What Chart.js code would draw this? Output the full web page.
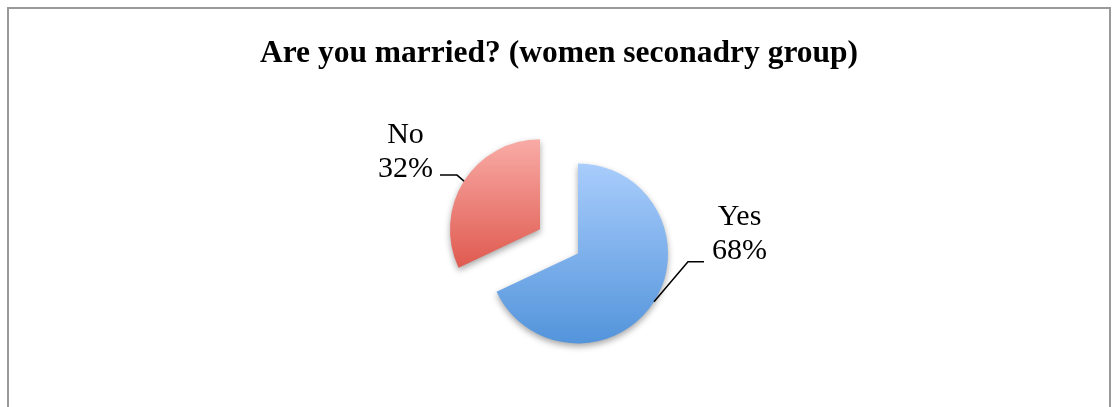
<!doctype html>
<html lang="en">
  <head>
    <title>Are you married?</title>
    <meta charset="utf-8" />
    <style>
      body {
        margin: 0;
        background: #fff;
      }
      .frame {
        position: absolute;
        left: 7px;
        top: 7px;
        width: 1104px;
        height: 430px;
        border: 2px solid #9a9a9a;
        box-sizing: border-box;
      }
      #married {
        position: absolute;
        left: 0;
        top: 0;
      }
    </style>
  </head>

  <body>
    <div class="frame"></div>
    <canvas id="married" width="1112" height="407"></canvas>

    <script src="https://cdn.jsdelivr.net/npm/chart.js@4.4.1/dist/chart.umd.js"></script>
    <script>
      const categories = ["Yes", "No"];
      const shares = [68, 32];

      // gradient ends, top to bottom of each slice
      const topColors = ["#a9cdfc", "#f9aba6"];
      const bottomColors = ["#5394db", "#df5a4f"];

      // how far each slice is pulled out from the centre
      const explode = 22.5;

      // leader line: elbow offset from the slice edge, then a flat run
      const leaderElbow = [[34, -40], [-7, -6]];
      const leaderRun = [16, -17];
      // baseline of the percent line, relative to the flat run
      const labelShift = [-3, 2];

      const labelFont = '30px "Liberation Serif", serif';

      function sliceBounds(arc) {
        const { x, y, startAngle, endAngle, outerRadius } = arc;
        let top = y, bottom = y;
        for (let i = 0; i <= 60; i++) {
          const a = startAngle + (endAngle - startAngle) * i / 60;
          const py = y + outerRadius * Math.sin(a);
          top = Math.min(top, py);
          bottom = Math.max(bottom, py);
        }
        return [top, bottom];
      }

      // push every slice out along its middle angle
      const explodeSlices = {
        id: "explodeSlices",
        afterDatasetsUpdate(chart) {
          chart.getDatasetMeta(0).data.forEach((arc) => {
            const mid = (arc.startAngle + arc.endAngle) / 2;
            arc.x += Math.cos(mid) * explode;
            arc.y += Math.sin(mid) * explode;
          });
        },
      };

      const gradientFill = {
        id: "gradientFill",
        beforeDatasetsDraw(chart) {
          const ctx = chart.ctx;
          chart.getDatasetMeta(0).data.forEach((arc, i) => {
            const [top, bottom] = sliceBounds(arc);
            const g = ctx.createLinearGradient(0, top, 0, bottom);
            g.addColorStop(0, topColors[i]);
            g.addColorStop(1, bottomColors[i]);
            arc.options = Object.assign({}, arc.options, { backgroundColor: g });
          });
          ctx.save();
          ctx.shadowColor = "rgba(0, 0, 0, 0.35)";
          ctx.shadowBlur = 6;
          ctx.shadowOffsetY = 3;
        },
        afterDatasetsDraw(chart) {
          chart.ctx.restore();
        },
      };

      const sliceLabels = {
        id: "sliceLabels",
        afterDraw(chart) {
          const ctx = chart.ctx;
          const total = shares.reduce((a, b) => a + b, 0);
          ctx.save();
          ctx.font = labelFont;
          ctx.fillStyle = "#000";
          ctx.strokeStyle = "#000";
          ctx.lineWidth = 1.5;
          chart.getDatasetMeta(0).data.forEach((arc, i) => {
            const mid = (arc.startAngle + arc.endAngle) / 2;
            const x0 = arc.x + arc.outerRadius * Math.cos(mid);
            const y0 = arc.y + arc.outerRadius * Math.sin(mid);
            const x1 = x0 + leaderElbow[i][0];
            const y1 = y0 + leaderElbow[i][1];
            const x2 = x1 + leaderRun[i];
            ctx.beginPath();
            ctx.moveTo(x0, y0);
            ctx.lineTo(x1, y1);
            ctx.lineTo(x2, y1);
            ctx.stroke();

            const lines = [categories[i], Math.round(shares[i] / total * 100) + "%"];
            const w = Math.max(...lines.map((t) => ctx.measureText(t).width));
            const cx = leaderRun[i] > 0 ? x2 + 8 + w / 2 : x2 - 7 - w / 2;
            const base = y1 + labelShift[i];
            ctx.textAlign = "center";
            ctx.textBaseline = "alphabetic";
            ctx.fillText(lines[0], cx, base - 34);
            ctx.fillText(lines[1], cx, base);
          });
          ctx.restore();
        },
      };

      const ctx = document.getElementById("married");
      new Chart(ctx, {
        type: "pie",
        data: {
          labels: categories,
          datasets: [
            {
              data: shares,
              backgroundColor: bottomColors,
              borderWidth: 0,
            },
          ],
        },
        options: {
          responsive: false,
          animation: false,
          radius: 90,
          layout: {
            padding: { left: 6, right: 0, top: 0, bottom: 28 },
          },
          plugins: {
            legend: { display: false },
            tooltip: { enabled: false },
            title: {
              display: true,
              text: "Are you married? (women seconadry group)",
              color: "#000",
              font: { family: '"Liberation Serif", serif', size: 31.5, weight: "bold", lineHeight: 1.2 },
              padding: { top: 35, bottom: 31 },
            },
          },
        },
        plugins: [explodeSlices, gradientFill, sliceLabels],
      });
    </script>
  </body>
</html>
